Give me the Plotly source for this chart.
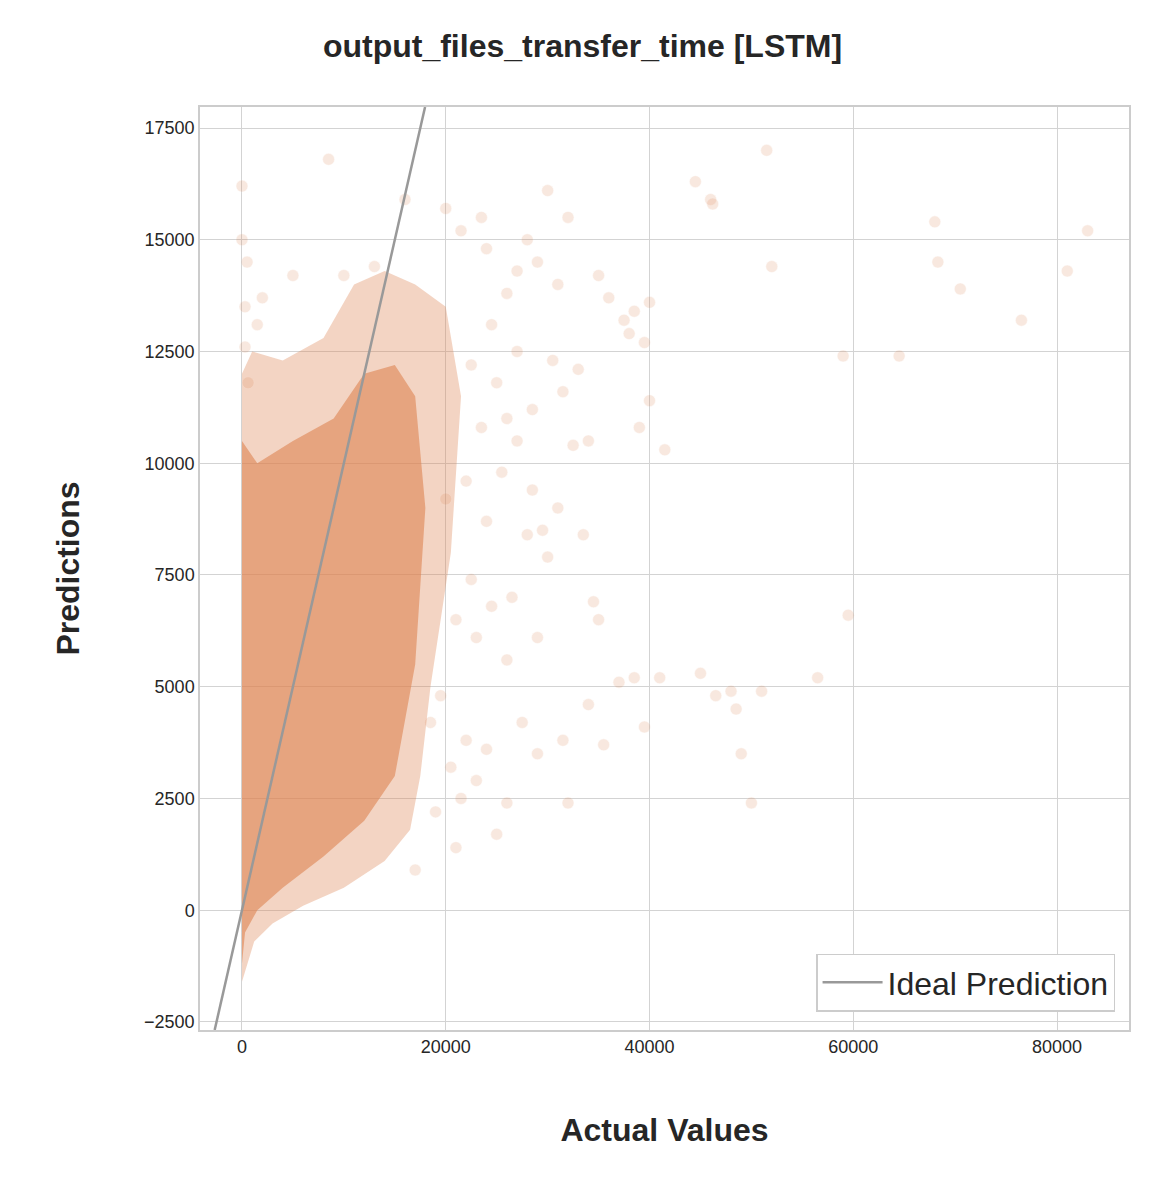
import plotly.graph_objects as go

# Dense cloud envelopes
outer_x = [0, 0, 1000, 4000, 8000, 11000, 14000, 17000, 20000, 21500, 20500, 18500, 17500, 16500, 14000, 10000, 6000, 3000, 1200, 400, 0]
outer_y = [-1600, 12000, 12500, 12300, 12800, 14000, 14300, 14000, 13500, 11500, 8000, 5000, 3000, 1800, 1100, 500, 100, -300, -700, -1300, -1600]
core_x = [0, 0, 1500, 5000, 9000, 12000, 15000, 17000, 18000, 17000, 15000, 12000, 8000, 4000, 1500, 300, 0]
core_y = [-1200, 10500, 10000, 10500, 11000, 12000, 12200, 11500, 9000, 5500, 3000, 2000, 1200, 500, 0, -500, -1200]

# Scattered points
pts_x = [0, 0, 300, 500, 8500, 16000, 20000, 21500, 23500, 24000, 26000, 27000, 28000, 29000, 30000, 31000, 32000,
         30500, 31500, 33000, 34000, 35000, 36000, 37500, 38500, 39500, 40000, 41500, 39000, 38000, 40000,
         44500, 46000, 46200, 52000, 51500, 59000, 64500, 68000, 68300, 70500, 76500, 81000, 83000,
         34500, 35000, 39500, 41000, 45000, 46500, 48000, 49000, 51000, 56500, 59500, 50000, 48500,
         37000, 38500, 35500, 34000, 31500, 32000, 29000, 27500, 26000, 25000, 23000, 22000, 21000,
         28000, 29500, 30000, 26500, 24500, 23000, 22500, 27000, 25500, 24000, 21000, 19500, 20500,
         28500, 27000, 25000, 23500, 22000, 20000, 18500, 17000, 19000, 21500, 24000, 26000, 29000,
         33500, 32500, 31000, 28500, 26000, 24500, 22500, 2000, 5000, 10000, 13000, 300, 600, 1500]
pts_y = [16200, 15000, 13500, 14500, 16800, 15900, 15700, 15200, 15500, 14800, 13800, 14300, 15000, 14500, 16100, 14000, 15500,
         12300, 11600, 12100, 10500, 14200, 13700, 13200, 13400, 12700, 11400, 10300, 10800, 12900, 13600,
         16300, 15900, 15800, 14400, 17000, 12400, 12400, 15400, 14500, 13900, 13200, 14300, 15200,
         6900, 6500, 4100, 5200, 5300, 4800, 4900, 3500, 4900, 5200, 6600, 2400, 4500,
         5100, 5200, 3700, 4600, 3800, 2400, 3500, 4200, 2400, 1700, 2900, 3800, 1400,
         8400, 8500, 7900, 7000, 6800, 6100, 7400, 10500, 9800, 8700, 6500, 4800, 3200,
         11200, 12500, 11800, 10800, 9600, 9200, 4200, 900, 2200, 2500, 3600, 5600, 6100,
         8400, 10400, 9000, 9400, 11000, 13100, 12200, 13700, 14200, 14200, 14400, 12600, 11800, 13100]

ORANGE = "#dd8452"
fig = go.Figure()
fig.add_trace(go.Scatter(x=outer_x, y=outer_y, fill="toself", mode="lines", line=dict(width=0),
                         fillcolor="rgba(221,132,82,0.35)", showlegend=False, hoverinfo="skip"))
fig.add_trace(go.Scatter(x=core_x, y=core_y, fill="toself", mode="lines", line=dict(width=0),
                         fillcolor="rgba(221,132,82,0.6)", showlegend=False, hoverinfo="skip"))
fig.add_trace(go.Scatter(x=pts_x, y=pts_y, mode="markers", showlegend=False,
                         marker=dict(size=12, color=ORANGE, opacity=0.18, line=dict(width=0.5, color="white"))))
lo, hi = -2680, 17970
fig.add_trace(go.Scatter(x=[lo, hi], y=[lo, hi], mode="lines", name="Ideal Prediction",
                         line=dict(color="#999999", width=2.5)))

fig.update_layout(
    width=1149, height=1178, plot_bgcolor="white", paper_bgcolor="white",
    font=dict(family="Liberation Sans, Arial", color="#262626", size=16),
    title=dict(text="<b>output_files_transfer_time [LSTM]</b>", x=0.5, xanchor="center",
               y=0.968, yanchor="middle", font=dict(size=32)),
    margin=dict(l=192, r=28, t=99, b=156, autoexpand=False),
    xaxis=dict(range=[-4120, 87060], tickvals=[0, 20000, 40000, 60000, 80000],
               ticktext=["0", "20000", "40000", "60000", "80000"],
               showgrid=True, gridcolor="#d3d3d3", gridwidth=1.2, zeroline=False,
               showline=True, mirror=True, linecolor="#cccccc", linewidth=1.5,
               ticks="", tickfont=dict(size=18),
               title=dict(text="<b>Actual Values</b>", font=dict(size=32), standoff=62)),
    yaxis=dict(range=[-2680, 17970], tickvals=[-2500, 0, 2500, 5000, 7500, 10000, 12500, 15000, 17500],
               ticktext=["\u22122500", "0", "2500", "5000", "7500", "10000", "12500", "15000", "17500"],
               showgrid=True, gridcolor="#d3d3d3", gridwidth=1.2, zeroline=False,
               showline=True, mirror=True, linecolor="#cccccc", linewidth=1.5,
               ticks="", tickfont=dict(size=18),
               title=dict(text="<b>Predictions</b>", font=dict(size=32), standoff=55)),
    legend=dict(x=0.985, y=0.02, xanchor="right", yanchor="bottom", bgcolor="white",
                bordercolor="#cccccc", borderwidth=1.5, font=dict(size=32), itemwidth=60),
)
fig.write_html("out.html")
